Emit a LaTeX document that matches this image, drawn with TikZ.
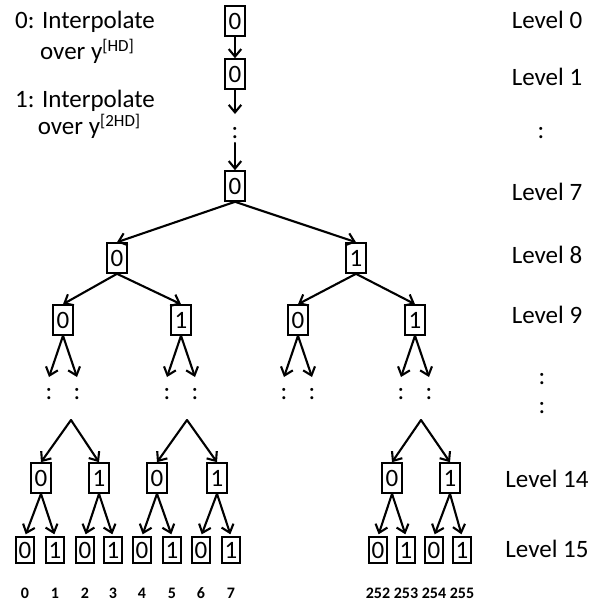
\documentclass[tikz,border=0pt]{standalone}
\usepackage{fontspec}
\setmainfont{Carlito}
\usetikzlibrary{arrows.meta}
\newcommand\hdsup[1]{\raisebox{8pt}{\fontsize{17}{17}\selectfont #1}}
\begin{document}
\begin{tikzpicture}[x=1pt,y=-1pt,
  txt/.style={font=\fontsize{25}{30}\selectfont, inner sep=0pt},
  box/.style={draw, line width=1.6pt, minimum width=19.5pt, minimum height=30pt,
              inner sep=0pt, font=\fontsize{25}{30}\selectfont},
  leaf/.style={box, minimum width=18pt, minimum height=26pt},
  idx/.style={font=\fontsize{16}{18}\selectfont\bfseries, inner sep=0pt, anchor=base},
  lvl/.style={txt, anchor=base},
  arr/.style={-{Straight Barb[length=7.5pt,width=12.5pt]}, line width=2.1pt, line cap=round, line join=round}]
\useasboundingbox (0,0) rectangle (590,603);

% legend
\node[txt, anchor=base] (leg0a) at (85,28)  {0: Interpolate};
\node[txt, anchor=base] (leg0b) at (87,59)  {over y\hdsup{[HD]}};
\node[txt, anchor=base] (leg1a) at (85,107) {1: Interpolate};
\node[txt, anchor=base] (leg1b) at (89,134) {over y\hdsup{[2HD]}};

% level labels
\node[lvl] (lv0)  at (547,28)  {Level 0};
\node[lvl] (lv1)  at (547,85)  {Level 1};
\node[txt] (lvd1) at (541,133) {:};
\node[lvl] (lv7)  at (547,200) {Level 7};
\node[lvl] (lv8)  at (547,263) {Level 8};
\node[lvl] (lv9)  at (547,323) {Level 9};
\node[txt] (lvd2) at (542,379) {:};
\node[txt] (lvd3) at (542,408) {:};
\node[lvl] (lv14) at (547,487) {Level 14};
\node[lvl] (lv15) at (547,557) {Level 15};

% single chain, levels 0 to 7
\node[box] (n0) at (235,21)  {0};
\node[box] (n1) at (235,74)  {0};
\coordinate (c1) at (235,114);
\node[txt] (d1) at (235,133) {:};
\coordinate (c2) at (235,143);
\node[box] (n7) at (235,186) {0};
\draw[arr] (n0) -- (n1);
\draw[arr] (n1) -- (c1);
\draw[arr] (c2) -- (n7);

% levels 8 and 9
\node[box] (n8a) at (117,258) {0};
\node[box] (n8b) at (356,258) {1};
\node[box] (n9a) at (63,320)  {0};
\node[box] (n9b) at (181,320) {1};
\node[box] (n9c) at (298,320) {0};
\node[box] (n9d) at (415,320) {1};
\draw[arr] (n7.south) -- (n8a.north);
\draw[arr] (n7.south) -- (n8b.north);
\draw[arr] (n8a.south) -- (n9a.north);
\draw[arr] (n8a.south) -- (n9b.north);
\draw[arr] (n8b.south) -- (n9c.north);
\draw[arr] (n8b.south) -- (n9d.north);

% elided levels below level 9
\foreach \p/\x in {a/63,b/181,c/298,d/415}{
  \coordinate (e\p l) at ({\x-14},377);
  \coordinate (e\p r) at ({\x+14},377);
  \draw[arr] (n9\p.south) -- (e\p l);
  \draw[arr] (n9\p.south) -- (e\p r);
  \node[txt] (g\p l) at ({\x-14},394) {:};
  \node[txt] (g\p r) at ({\x+14},394) {:};
}

% level 14
\coordinate (t1) at (71,420);
\coordinate (t2) at (187,420);
\coordinate (t3) at (421,420);
\node[box] (m1) at (41,478)  {0};
\node[box] (m2) at (99,478)  {1};
\node[box] (m3) at (157,478) {0};
\node[box] (m4) at (217,478) {1};
\node[box] (m5) at (392,478) {0};
\node[box] (m6) at (450,478) {1};
\draw[arr] (t1) -- (m1.north);
\draw[arr] (t1) -- (m2.north);
\draw[arr] (t2) -- (m3.north);
\draw[arr] (t2) -- (m4.north);
\draw[arr] (t3) -- (m5.north);
\draw[arr] (t3) -- (m6.north);

% level 15 leaves with their indices
\foreach \i/\x/\v/\p/\lab in {1/25/0/m1/0, 2/55/1/m1/1, 3/85/0/m2/2, 4/113/1/m2/3,
                              5/142/0/m3/4, 6/172/1/m3/5, 7/201/0/m4/6, 8/231/1/m4/7,
                              9/378/0/m5/252, 10/406/1/m5/253, 11/434/0/m6/254, 12/462/1/m6/255}{
  \node[leaf] (l\i) at (\x,550) {\v};
  \draw[arr, shorten >=2pt] (\p.south) -- (l\i.north);
  \node[idx] (k\i) at (\x,598) {\lab};
}
\end{tikzpicture}
\end{document}
